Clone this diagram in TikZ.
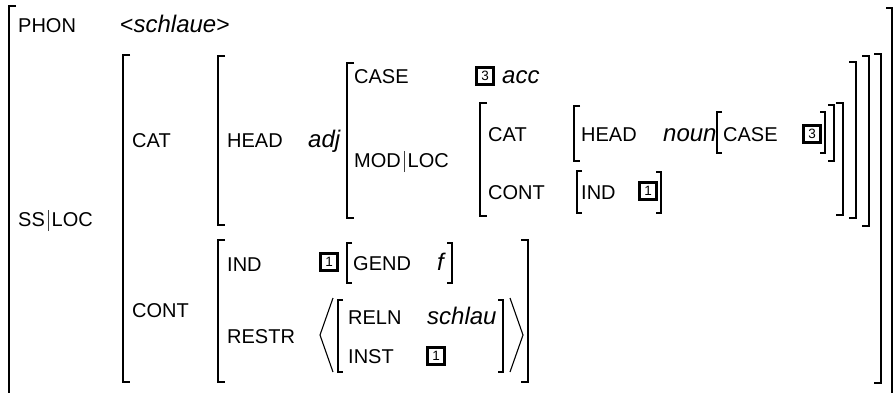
\documentclass[tikz,border=0pt]{standalone}
\usepackage{fontspec}
\setmainfont{Liberation Sans}
\newcommand\avmbar{\hspace{3pt}{\color{black!75}\rule[-5pt]{0.8pt}{21pt}}\hspace{3pt}}
\newcommand\avmit[1]{{\fontsize{24}{24}\selectfont\itshape #1}}
\newcommand\avmang[1]{{\fontsize{23}{23}\selectfont #1}}
% left bracket: style, x, top, bottom, serif
\newcommand\avmL[5]{\draw[#1] (#2+#5,#3) -- (#2,#3) -- (#2,#4) -- (#2+#5,#4);}
\newcommand\avmR[5]{\draw[#1] (#2-#5,#3) -- (#2,#3) -- (#2,#4) -- (#2-#5,#4);}
\begin{document}
\begin{tikzpicture}[x=1pt,y=-1pt,
  lbl/.style={anchor=base west,inner sep=0pt,font=\fontsize{20}{24}\selectfont},
  tagbox/.style={draw,line width=2.6pt,minimum width=17pt,minimum height=17pt,inner sep=0pt,font=\fontsize{13.5}{13.5}\selectfont},
  bigb/.style={line width=2.2pt,line join=miter},
  midb/.style={line width=1.5pt,line join=miter},
  smlb/.style={line width=1.1pt,line join=miter},
  angl/.style={line width=1.1pt}]
\useasboundingbox (0,0) rectangle (893,392);
% brackets (left)
\avmL{bigb}{9}{6}{400}{7}
\avmL{bigb}{123}{55}{382}{7}
\avmL{bigb}{218}{56}{225}{7}
\avmL{bigb}{347}{63}{218}{7}
\avmL{bigb}{480}{103}{216}{7}
\avmL{midb}{574}{106}{161}{6}
\avmL{smlb}{717}{112}{153}{5}
\avmL{smlb}{577}{171}{213}{5}
\avmL{bigb}{218}{240}{382}{7}
\avmL{smlb}{347}{243}{283}{5}
\avmL{smlb}{338}{300}{372}{5}
% brackets (right)
\avmR{bigb}{892}{8}{400}{6}
\avmR{bigb}{881}{54}{383}{7}
\avmR{bigb}{869}{56}{226}{7}
\avmR{bigb}{856}{62}{218}{7}
\avmR{bigb}{843}{103}{215}{7}
\avmR{midb}{834}{105}{161}{6}
\avmR{smlb}{825}{112}{153}{5}
\avmR{smlb}{661}{172}{213}{5}
\avmR{bigb}{528}{240}{382}{7}
\avmR{smlb}{452}{243}{283}{5}
\avmR{smlb}{503}{300}{372}{5}
% angle brackets
\draw[angl] (333,298) -- (320,335) -- (333,372);
\draw[angl] (510,298) -- (523,335) -- (510,372);
% labels
\node[lbl] (phon) at (18,32) {PHON};
\node[lbl] (phonv) at (120,32) {\avmang{<}\avmit{schlaue}\avmang{>}};
\node[lbl] (ssloc) at (18,226) {SS\avmbar LOC};
\node[lbl] (cat1) at (132,147) {CAT};
\node[lbl] (cont1) at (132,317) {CONT};
\node[lbl] (head1) at (227,147) {HEAD};
\node[lbl] (adj) at (308,147) {\avmit{adj}};
\node[lbl] (case1) at (354,83) {CASE};
\node[tagbox] (t3a) at (485,76) {3};
\node[lbl] (acc) at (502,83) {\avmit{acc}};
\node[lbl] (modloc) at (354,167) {MOD\avmbar LOC};
\node[lbl] (cat2) at (488,141) {CAT};
\node[lbl] (cont2) at (488,199) {CONT};
\node[lbl] (head2) at (581,141) {HEAD};
\node[lbl] (noun) at (663,141) {\avmit{noun}};
\node[lbl] (case2) at (723,141) {CASE};
\node[tagbox] (t3b) at (812,134) {3};
\node[lbl] (ind2) at (581,199) {IND};
\node[tagbox] (t1a) at (648,191) {1};
\node[lbl] (ind1) at (227,271) {IND};
\node[tagbox] (t1b) at (329,262) {1};
\node[lbl] (gend) at (353,270) {GEND};
\node[lbl] (fval) at (437,270) {\avmit{f}};
\node[lbl] (restr) at (227,343) {RESTR};
\node[lbl] (reln) at (348,324) {RELN};
\node[lbl] (schlau) at (427,324) {\avmit{schlau}};
\node[lbl] (inst) at (348,363) {INST};
\node[tagbox] (t1c) at (436,356) {1};
\end{tikzpicture}
\end{document}
